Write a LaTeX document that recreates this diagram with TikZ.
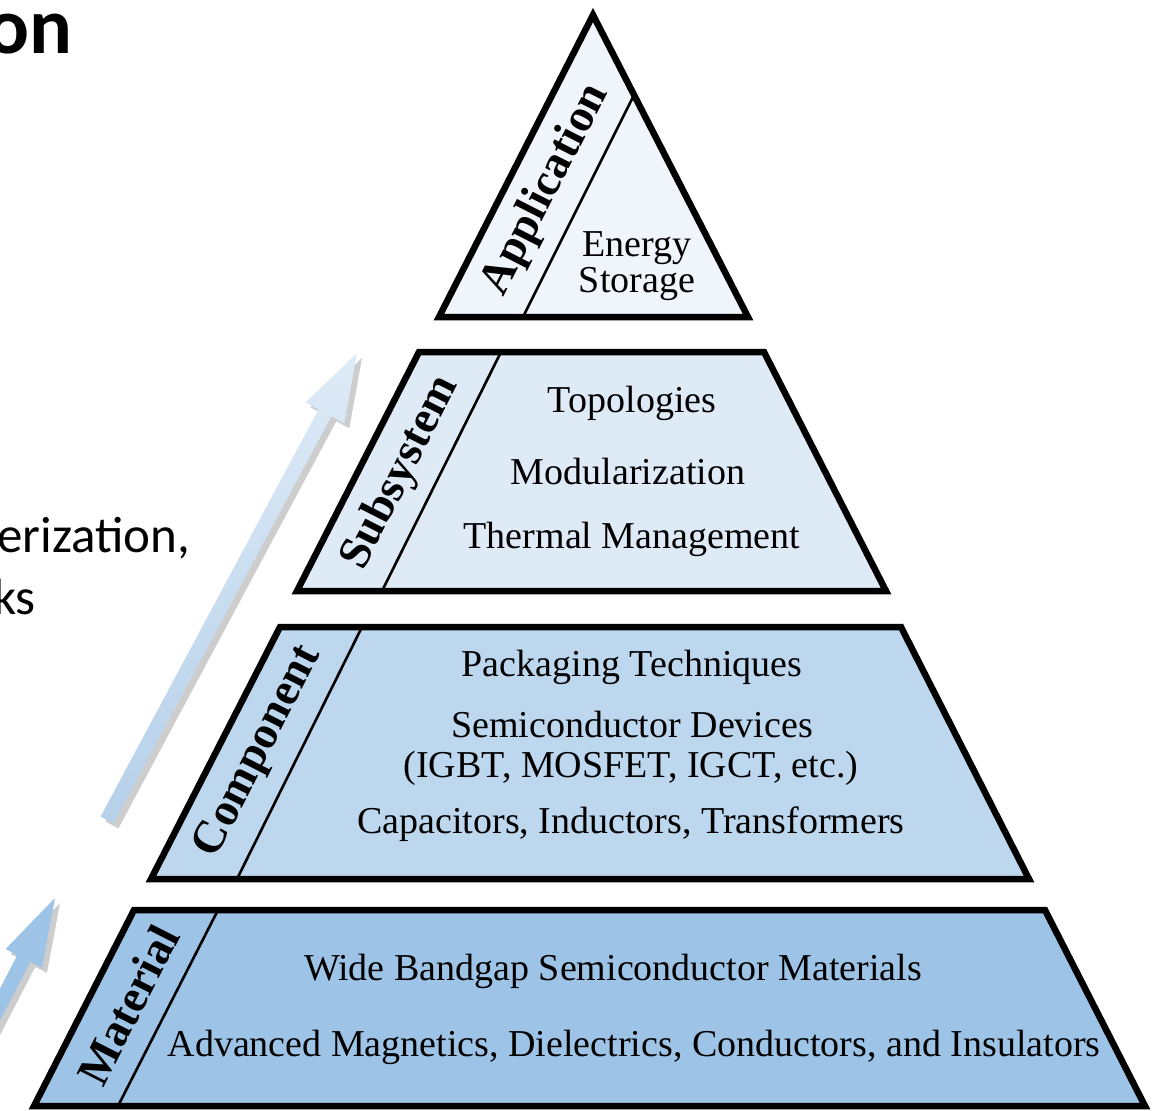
\documentclass[tikz,border=0pt]{standalone}
\usepackage{fontspec}
\setmainfont{Liberation Serif}
\newfontfamily\calibrifont{Carlito}
\usetikzlibrary{shadows}
\definecolor{lapp}{HTML}{EFF5FB}
\definecolor{lsub}{HTML}{DEEAF6}
\definecolor{lcomp}{HTML}{BDD7EE}
\definecolor{lmat}{HTML}{9DC3E6}
\definecolor{arrlight}{HTML}{DEEBF7}
\definecolor{arrdark}{HTML}{B6D0EA}
\begin{document}
\begin{tikzpicture}[x=1pt,y=1pt,
  layer/.style={draw=black, line width=6.5pt, line join=miter},
  divider/.style={draw=black, line width=2.6pt},
  body/.style={font=\fontsize{38}{42}\selectfont, inner sep=0pt, anchor=base},
  tag/.style={font=\fontsize{46}{50}\selectfont\bfseries, rotate=63, inner sep=0pt},
  lshadow/.style={drop shadow={shadow xshift=3pt, shadow yshift=-3pt, opacity=0.15, fill=black}},
  ashadow/.style={drop shadow={shadow xshift=5pt, shadow yshift=-5pt, opacity=0.28, fill=black!70}},
  sidetext/.style={font=\calibrifont\fontsize{51}{51}\selectfont, inner sep=0pt}
]
\useasboundingbox (0,-1111) rectangle (1160,0);
\clip (0,-1111) rectangle (1160,0);

% ---------- arrows ----------
\path[ashadow, top color=arrlight, bottom color=arrdark]
  (100.6,-816.6) -- (318.5,-409.5) -- (305.5,-402.5) -- (357,-353) coordinate (tipA)
  -- (344.3,-423.3) -- (331.3,-416.3) -- (113.4,-823.4) -- cycle;
\path[ashadow, fill=lmat]
  (-97.4,-1177.2) -- (17.3,-955.1) -- (5.6,-949.0) -- (55,-898) coordinate (tipB)
  -- (42.0,-967.8) -- (30.3,-961.8) -- (-84.4,-1184.0) -- cycle;

% ---------- pyramid layers ----------
% Application
\path[layer, fill=lapp, lshadow] (593,-15) -- (748,-317) -- (439,-317) -- cycle;
\draw[divider] (633,-97) -- (523,-317);
% Subsystem
\path[layer, fill=lsub, lshadow] (419,-352) -- (764,-352) -- (886,-591) -- (297,-591) -- cycle;
\draw[divider] (501,-352) -- (382,-591);
% Component
\path[layer, fill=lcomp, lshadow] (280,-627) -- (901,-627) -- (1029,-879) -- (151,-879) -- cycle;
\draw[divider] (362,-627) -- (237,-879);
% Material
\path[layer, fill=lmat, lshadow] (134,-910) -- (1045,-910) -- (1145,-1106) -- (34,-1106) -- cycle;
\draw[divider] (218,-910) -- (118,-1106);

% ---------- rotated tags ----------
\node[tag] (tApp) at (546,-190) {Application};
\node[tag] (tSub) at (401,-473) {Subsystem};
\node[tag] (tComp) at (259,-752) {Component};
\node[tag] (tMat) at (128,-1005) {Material};

% ---------- body texts ----------
\node[body] (es1) at (637,-256) {Energy};
\node[body] (es2) at (637,-292) {Storage};

\node[body] (s1) at (632,-412) {Topologies};
\node[body] (s2) at (628,-484) {Modularization};
\node[body] (s3) at (632,-548) {Thermal Management};

\node[body] (c1) at (632,-676) {Packaging Techniques};
\node[body] (c2) at (632,-737) {Semiconductor Devices};
\node[body] (c3) at (631,-777) {(IGBT, MOSFET, IGCT, etc.)};
\node[body] (c4) at (631,-833) {Capacitors, Inductors, Transformers};

\node[body] (m1) at (613,-980) {Wide Bandgap Semiconductor Materials};
\node[body] (m2) at (634,-1056) {Advanced Magnetics, Dielectrics, Conductors, and Insulators};

% ---------- cropped slide text on the left ----------
\node[font=\calibrifont\fontsize{80}{80}\selectfont\bfseries, anchor=base east, inner sep=0pt] (title) at (73,-53) {on};
\node[sidetext, anchor=base west] (l1) at (-3,-552) {erization,};
\node[sidetext, anchor=base east] (l2) at (36,-614) {ks};
\end{tikzpicture}
\end{document}
